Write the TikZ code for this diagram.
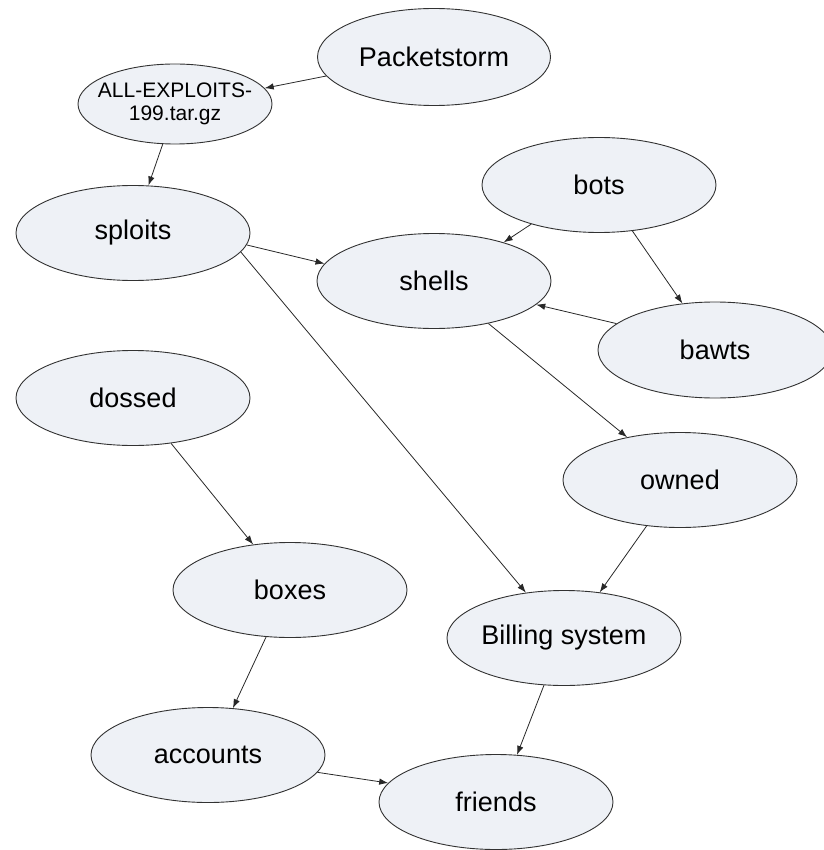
\documentclass[tikz,border=0pt]{standalone}
\usepackage{fontspec}
\setmainfont{Liberation Sans}
\usetikzlibrary{shapes.geometric,arrows.meta}
\definecolor{nodefill}{RGB}{238,241,246}
\definecolor{nodeline}{RGB}{50,50,50}
\definecolor{edgeline}{RGB}{40,40,40}
\tikzset{
  oval/.style={ellipse, draw=nodeline, line width=0.9pt, fill=nodefill, inner sep=0pt,
    minimum width=234pt, minimum height=95pt, font=\fontsize{27}{30}\selectfont},
  link/.style={draw=edgeline, line width=0.8pt, -{Latex[length=9pt,width=6.5pt]}}
}
\begin{document}
\begin{tikzpicture}[x=1pt,y=-1pt]
\useasboundingbox (0,0) rectangle (823,850);
\node[oval, minimum width=233pt, minimum height=97pt] (pkt) at (434,57) {Packetstorm};
\node[oval, minimum width=194pt, minimum height=80pt, inner xsep=-9pt, align=center, font=\fontsize{21}{23}\selectfont] (all) at (175,104) {ALL-EXPLOITS-\\199.tar.gz};
\node[oval] (sploits) at (133,233) {sploits};
\node[oval] (bots) at (599,185) {bots};
\node[oval] (shells) at (434,281) {shells};
\node[oval, minimum height=96pt] (bawts) at (715,350) {bawts};
\node[oval] (dossed) at (133,398) {dossed};
\node[oval] (owned) at (680,480) {owned};
\node[oval] (boxes) at (290,590) {boxes};
\node[oval] (billing) at (564,638) {Billing system};
\node[oval] (accounts) at (208,755) {accounts};
\node[oval] (friends) at (496,802) {friends};

\draw[link] (pkt.190.6) -- (all.10.2);
\draw[link] (all.253) -- (sploits.72);
\draw[link] (sploits.-6) -- (shells.171.3);
\draw[link] (sploits.-10) -- (billing.130);
\draw[link] (bots.210) -- (shells.29.5);
\draw[link] (bots.-54) -- (bawts.125.6);
\draw[link] (bawts.165.7) -- (shells.-13.8);
\draw[link] (shells.-38) -- (owned.141);
\draw[link] (owned.234) -- (billing.52);
\draw[link] (billing.247) -- (friends.66);
\draw[link] (dossed.-50) -- (boxes.129);
\draw[link] (boxes.243) -- (accounts.62.5);
\draw[link] (accounts.-9.4) -- (friends.170.5);
\end{tikzpicture}
\end{document}
